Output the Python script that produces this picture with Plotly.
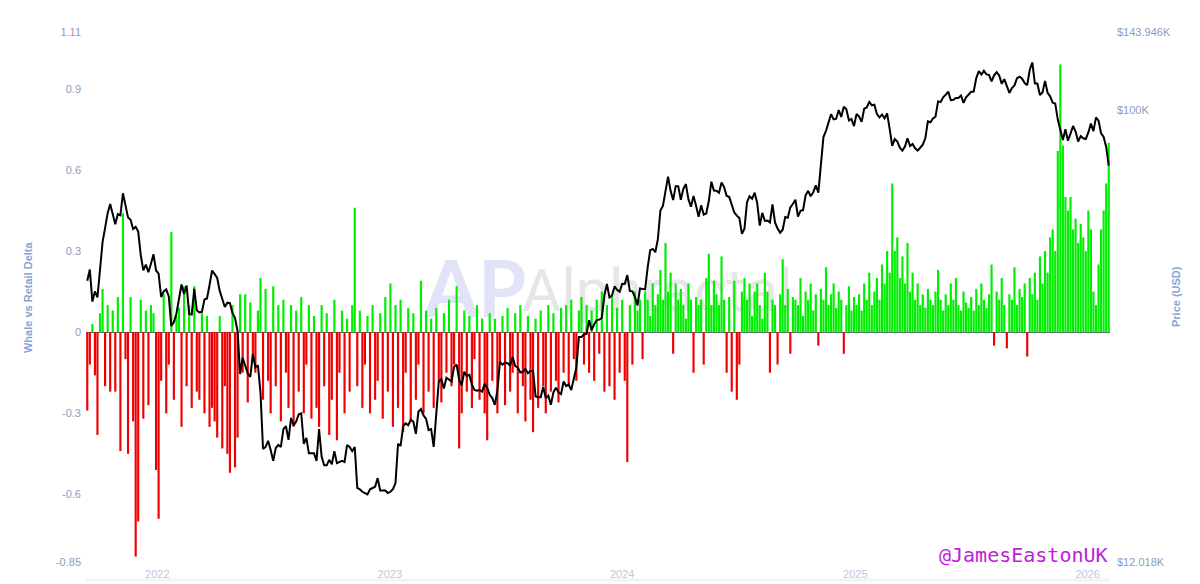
import pandas as pd
import plotly.graph_objects as go

# one sample every 4 days, 2021-09-13 .. 2026-02-03
start_date = "2021-09-13"
end_date = "2026-02-03"

# whale vs retail delta
delta_2021 = [-0.29, -0.12, 0.03, -0.16, -0.38,
              0.07, 0.16, -0.20, 0.10, -0.22, 0.08, -0.22, 0.13,
              -0.44, 0.44, -0.10, -0.45, 0.13, -0.33, -0.83,
              -0.70, 0.12, -0.32, 0.08, -0.27, 0.10, 0.07, -0.51]
delta_2022 = [-0.69, -0.18, 0.14, -0.30, -0.12, 0.37, -0.25, 0.06,
              0.09, -0.35, 0.17, -0.20, 0.10, -0.28, 0.17,
              -0.22, -0.25, 0.07, -0.30, 0.06, -0.35, -0.28,
              -0.33, -0.39, 0.06, -0.43, -0.20, -0.45, -0.52, 0.10,
              -0.50, -0.39, 0.14, -0.15, 0.14, -0.26, 0.11, -0.10,
              -0.15, 0.08, 0.20, -0.25, 0.16, -0.18, -0.30,
              0.17, -0.20, 0.10, -0.33, 0.12, -0.15, -0.28, 0.10,
              -0.35, 0.08, -0.22, 0.13, -0.30, -0.12, 0.10, -0.32,
              0.06, -0.28, -0.35, 0.10, -0.20, 0.07, -0.38,
              -0.25, 0.12, -0.40, -0.15, 0.08, -0.30, 0.05, -0.22,
              0.10, 0.46, -0.20, 0.08, -0.28, -0.12, 0.06,
              -0.30, 0.10, -0.25, -0.18, 0.07, -0.32, 0.13, -0.22]
delta_2023 = [0.18, -0.35, 0.10, -0.28, 0.12, -0.37, -0.15, 0.09,
              -0.33, 0.07, -0.25, -0.12, 0.19, -0.30, 0.08,
              -0.22, 0.05, -0.28, 0.09, -0.18, -0.26, 0.07, -0.15,
              0.12, -0.20, -0.12, 0.17, -0.43, -0.30, 0.08,
              -0.22, 0.06, -0.28, -0.10, 0.10, -0.25, 0.05, -0.30,
              -0.40, 0.07, -0.18, 0.05, -0.30, -0.12, 0.06,
              -0.27, 0.09, -0.22, -0.15, 0.07, -0.30, 0.10, -0.20,
              -0.33, 0.06, -0.25, -0.37, 0.05, -0.28, 0.08, -0.20,
              -0.30, 0.10, -0.22, 0.07, -0.18, -0.26, 0.09,
              -0.15, 0.10, -0.20, 0.12, -0.10, -0.18, 0.08, 0.13,
              -0.12, 0.10, -0.15, 0.08, -0.18, 0.12, -0.08, 0.15,
              -0.22, 0.10, -0.20, 0.14, -0.25, 0.09, -0.15]
delta_2024 = [0.12, -0.18, -0.48, 0.10, -0.12, 0.15, 0.08, 0.12,
              -0.10, 0.15, 0.12, 0.06, 0.18, 0.10, 0.14,
              0.23, 0.12, 0.33, 0.15, 0.22, -0.08, 0.18, 0.12,
              0.16, 0.10, 0.05, 0.18, 0.12, -0.15, 0.13, 0.10,
              0.12, -0.12, 0.20, 0.29, 0.10, 0.19, 0.14,
              0.10, 0.28, 0.12, -0.15, 0.13, -0.22, 0.19, -0.25,
              -0.12, 0.15, 0.20, 0.12, 0.18, 0.06, 0.15, 0.18,
              0.10, 0.05, 0.22, 0.15, -0.15, 0.12, 0.10,
              -0.12, 0.14, 0.27, 0.10, 0.16, -0.08, 0.13, 0.12,
              0.10, 0.20, 0.06, 0.15, 0.12, 0.18, 0.08, 0.14,
              -0.05, 0.16, 0.12, 0.24, 0.10, 0.14, 0.18,
              0.09, 0.15, 0.12, -0.08, 0.10, 0.17, 0.08, 0.13]
delta_2025 = [0.10, 0.14, 0.08, 0.18, 0.12, 0.22, 0.10, 0.15,
              0.20, 0.12, 0.25, 0.18, 0.30, 0.22, 0.55,
              0.30, 0.35, 0.20, 0.28, 0.18, 0.33, 0.15,
              0.22, 0.12, 0.18, 0.10, 0.14, 0.09, 0.16, 0.12,
              0.10, 0.15, 0.23, 0.12, 0.08, 0.14, 0.10, 0.18,
              0.12, 0.20, 0.10, 0.08, 0.15, 0.11, 0.09,
              0.13, 0.08, 0.16, 0.10, 0.18, 0.12, 0.09, 0.14,
              0.25, -0.05, 0.15, 0.12, 0.20, 0.10, -0.06, 0.14,
              0.12, 0.24, 0.10, 0.16, 0.13, 0.18, -0.09,
              0.20, 0.14, 0.22, 0.12, 0.28, 0.18, 0.30, 0.22,
              0.35, 0.38, 0.30, 0.67, 0.99, 0.69, 0.50,
              0.45, 0.50, 0.38, 0.42, 0.33, 0.40, 0.35, 0.30]
delta_2026 = [0.45, 0.38, 0.15, 0.10, 0.25, 0.38, 0.45, 0.55, 0.70]

# BTC price, thousands of USD
price_2021 = [44.9, 47.3, 40.7, 42.7, 41.5,
              48.2, 53.8, 57.5, 61.6, 64.3, 61.3, 58.5, 61.3,
              61.0, 67.6, 64.2, 60.4, 59.7, 57.2, 57.8,
              56.5, 50.6, 47.1, 48.4, 46.7, 48.6, 50.8, 47.1]
price_2022 = [46.4, 41.6, 42.7, 43.1, 41.7, 36.3, 37.0, 38.5,
              41.6, 44.1, 42.2, 43.9, 38.4, 38.3, 43.2,
              39.1, 38.7, 38.8, 41.1, 41.3, 44.0, 47.1,
              46.3, 45.5, 42.8, 41.1, 39.7, 40.5, 40.4, 38.6,
              37.7, 35.5, 29.0, 31.3, 30.3, 29.1, 28.6, 31.8,
              29.9, 30.2, 26.6, 20.4, 20.6, 21.2, 20.3,
              19.3, 20.5, 20.8, 20.6, 22.4, 22.7, 21.3, 23.6,
              22.8, 23.2, 24.0, 24.1, 20.9, 21.5, 20.0, 20.0,
              20.0, 19.3, 22.4, 19.7, 18.9, 18.9, 19.4,
              19.0, 20.2, 19.1, 19.2, 19.3, 19.2, 20.8, 20.6,
              20.2, 20.6, 17.0, 16.9, 16.7, 16.6, 16.5,
              16.9, 17.0, 17.1, 17.8, 16.8, 16.8, 16.8, 16.6]
price_2023 = [16.7, 16.9, 17.4, 20.9, 20.7, 22.7, 23.0, 22.8,
              23.4, 23.2, 21.9, 24.3, 24.6, 23.9, 23.5,
              22.3, 22.4, 20.6, 24.4, 28.0, 28.3, 27.1, 28.5,
              28.2, 28.0, 30.0, 30.3, 28.2, 27.5, 29.3,
              28.7, 28.9, 27.6, 26.9, 26.8, 26.9, 26.7, 27.7,
              27.2, 26.3, 25.9, 25.1, 26.8, 30.7, 30.3,
              30.6, 30.5, 30.2, 31.4, 30.1, 29.9, 29.2, 29.3,
              29.7, 29.1, 29.4, 29.4, 26.1, 26.0, 26.0, 27.3,
              25.9, 26.2, 25.1, 26.6, 27.2, 26.6, 26.4,
              28.0, 27.4, 27.6, 26.9, 28.4, 29.9, 34.5, 34.5,
              34.9, 35.0, 37.3, 35.6, 36.6, 37.3, 37.4, 37.7,
              41.9, 44.2, 41.5, 41.9, 43.7, 43.0, 42.6]
price_2024 = [44.2, 44.2, 46.1, 42.8, 42.7, 41.6, 40.0, 43.3,
              43.2, 43.1, 47.8, 51.8, 52.1, 51.3, 54.5,
              62.4, 63.8, 68.3, 73.1, 68.4, 65.5, 69.9, 69.9,
              65.6, 69.0, 70.6, 65.7, 63.5, 66.8, 63.8, 60.6,
              63.9, 61.2, 61.5, 65.2, 71.4, 68.5, 68.4,
              67.8, 71.1, 69.6, 66.8, 66.5, 64.1, 61.8, 60.9,
              60.2, 55.9, 57.3, 64.8, 66.7, 65.9, 67.8, 64.6,
              58.1, 61.7, 59.4, 59.5, 59.0, 64.2, 59.0,
              57.3, 56.2, 57.0, 60.5, 60.3, 63.3, 64.3, 65.6,
              60.6, 62.3, 62.5, 67.0, 68.4, 66.7, 67.9, 70.2,
              67.8, 76.5, 88.0, 90.6, 94.3, 97.9, 95.6,
              95.9, 99.9, 96.7, 101.4, 100.2, 95.1, 95.8, 92.6]
price_2025 = [98.1, 96.9, 94.5, 100.5, 101.1, 103.7, 102.1, 102.4,
              98.0, 96.5, 97.8, 96.1, 98.3, 91.4, 84.4,
              87.2, 86.2, 83.7, 82.6, 84.2, 87.5, 84.4,
              85.2, 83.5, 82.6, 83.7, 84.9, 87.5, 94.7, 94.3,
              96.0, 96.8, 104.0, 103.7, 106.0, 107.3, 108.9, 104.6,
              104.8, 105.7, 105.7, 106.9, 103.3, 106.0, 107.3,
              108.8, 108.9, 116.0, 119.8, 117.9, 120.0, 118.0, 117.8,
              114.2, 117.5, 119.3, 117.4, 112.9, 115.4, 111.2, 108.2,
              110.7, 112.1, 116.0, 116.8, 115.7, 113.3, 112.2,
              120.6, 124.8, 113.2, 113.0, 107.2, 108.4, 114.5, 108.3,
              106.5, 103.4, 103.0, 95.5, 91.5, 86.8, 91.3,
              86.5, 89.4, 92.7, 90.3, 86.2, 88.4, 87.5, 87.2]
price_2026 = [89.9, 93.7, 90.5, 96.5, 95.0, 89.5, 88.0, 84.0, 77.0]

year_ticks = ["2022-01-01", "2023-01-01", "2024-01-01", "2025-01-01", "2026-01-01"]
year_labels = ["2022", "2023", "2024", "2025", "2026"]
left_ticks = [-0.85, -0.6, -0.3, 0, 0.3, 0.6, 0.9, 1.11]
left_labels = ["-0.85", "-0.6", "-0.3", "0", "0.3", "0.6", "0.9", "1.11"]
right_ticks = [12018, 100000, 143946]
right_labels = ["$12.018K", "$100K", "$143.946K"]

delta = delta_2021 + delta_2022 + delta_2023 + delta_2024 + delta_2025 + delta_2026
price = price_2021 + price_2022 + price_2023 + price_2024 + price_2025 + price_2026
price_usd = [p * 1000 for p in price]
dates = pd.date_range(start_date, end_date, freq="4D")
assert len(dates) == len(delta) == len(price), (len(dates), len(delta), len(price))

bar_colors = ["#00ee00" if v >= 0 else "#ee0000" for v in delta]

fig = go.Figure()
fig.add_trace(go.Bar(x=dates, y=delta, marker=dict(color=bar_colors, line=dict(width=0)),
                     name="Whale vs Retail Delta", yaxis="y"))
fig.add_trace(go.Scatter(x=dates, y=price_usd, mode="lines", line=dict(color="black", width=2),
                         name="Price (USD)", yaxis="y2"))

tick_font = dict(family="Liberation Sans, Arial", size=11, color="#8c9cbc")

# the page adds an 8px body margin, so the margins are shifted by that much
fig.update_layout(
    width=1200, height=584,
    margin=dict(l=78, r=98, t=24, b=30),
    paper_bgcolor="white", plot_bgcolor="white",
    showlegend=False, bargap=0.15,
    xaxis=dict(type="date", range=["2021-09-11", "2026-02-05"], automargin=False,
               tickvals=year_ticks, ticktext=year_labels, ticklabelstandoff=4,
               showgrid=False, zeroline=False, showline=False,
               tickfont=dict(family="Liberation Sans, Arial", size=11, color="#bcc8dc")),
    yaxis=dict(range=[-0.85, 1.11], tickvals=left_ticks, ticktext=left_labels, automargin=False,
               showgrid=False, zeroline=True, zerolinecolor="#5d6677", zerolinewidth=1,
               tickfont=tick_font, ticklabelstandoff=4),
    yaxis2=dict(type="log", overlaying="y", side="right", automargin=False,
                range=[4.07983, 5.15821], tickvals=right_ticks, ticktext=right_labels,
                showgrid=False, zeroline=False, tickfont=tick_font, ticklabelstandoff=6),
)

# watermark, kept below the data
fig.add_shape(type="rect", xref="paper", yref="paper", x0=0.33, x1=0.43, y0=0.43, y1=0.61,
              line=dict(width=0), fillcolor="rgba(0,0,0,0)", layer="below",
              label=dict(text="<b>AP</b>", textposition="middle center",
                         font=dict(family="Lato, Roboto", size=78, color="#e1e4f8")))
fig.add_shape(type="rect", xref="paper", yref="paper", x0=0.42, x1=0.72, y0=0.43, y1=0.61,
              line=dict(width=0), fillcolor="rgba(0,0,0,0)", layer="below",
              label=dict(text="Alphractal", textposition="middle left",
                         font=dict(family="Roboto, Lato", size=60, color="#e6e6e6")))
# faint band under the time axis
fig.add_shape(type="line", xref="paper", yref="paper", x0=0, x1=1, y0=-0.034, y1=-0.034,
              line=dict(color="#f1f3f7", width=3))

fig.add_annotation(text="<b>Whale vs Retail Delta</b>", xref="paper", yref="paper",
                   x=-0.0566, y=0.5, xanchor="center", yanchor="middle",
                   textangle=-90, showarrow=False,
                   font=dict(family="Liberation Sans, Arial", size=11, color="#86a4d4"))
fig.add_annotation(text="<b>Price (USD)</b>", xref="paper", yref="paper",
                   x=1.0645, y=0.5, xanchor="center", yanchor="middle",
                   textangle=-90, showarrow=False,
                   font=dict(family="Liberation Sans, Arial", size=11, color="#86a4d4"))
fig.add_annotation(text="@JamesEastonUK", xref="paper", yref="paper",
                   x=1.0, y=0.014, xanchor="right", yanchor="middle", showarrow=False,
                   font=dict(family="DejaVu Sans Mono", size=20, color="#be1ed6"))

fig.write_html("out.html")
